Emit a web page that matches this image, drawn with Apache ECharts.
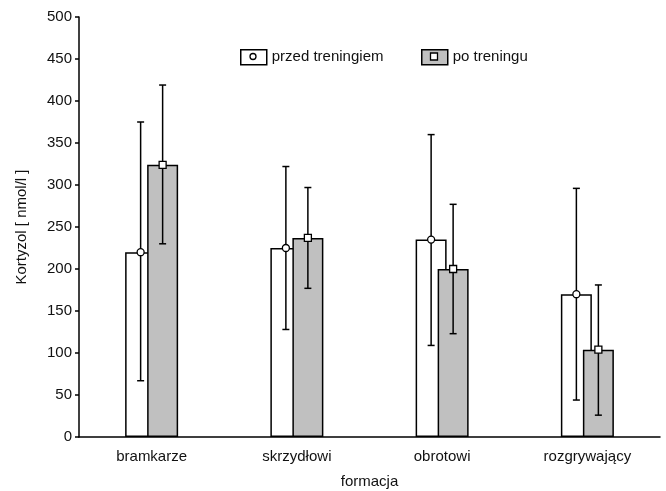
<!DOCTYPE html>
<html>
<head>
<meta charset="utf-8">
<script src="https://cdn.jsdelivr.net/npm/echarts@6/dist/echarts.min.js"></script>
<style>html,body{margin:0;padding:0;background:#fff}#c{width:666px;height:491px}</style>
</head>
<body>
<div id="c"></div>
<script>
const categories = ['bramkarze', 'skrzydłowi', 'obrotowi', 'rozgrywający'];
const seriesNames = ['przed treningiem', 'po treningu'];
const przedMean = [220, 225, 235, 170];
const przedLow = [67, 128, 109, 44];
const przedHigh = [375, 322, 360, 296];
const poMean = [324, 237, 200, 104];
const poLow = [230, 177, 123, 26];
const poHigh = [419, 297, 277, 181];
const yTicks = [0, 50, 100, 150, 200, 250, 300, 350, 400, 450, 500];

const FONT = '"Liberation Sans", Arial, sans-serif';
const BAR_W = 31;
const OFFSET = 11;

function errData(mean, low, high) {
  return mean.map((m, i) => [i, m, low[i], high[i]]);
}

function makeErr(offset, shape) {
  return function (params, api) {
    const cx = api.coord([api.value(0), 0])[0] + offset;
    const yM = api.coord([api.value(0), api.value(1)])[1];
    const yL = api.coord([api.value(0), api.value(2)])[1];
    const yH = api.coord([api.value(0), api.value(3)])[1];
    const ls = { stroke: '#000', lineWidth: 1.5 };
    const children = [
      { type: 'line', shape: { x1: cx, y1: yL, x2: cx, y2: yH }, style: ls },
      { type: 'line', shape: { x1: cx - 3.5, y1: yL, x2: cx + 3.5, y2: yL }, style: ls },
      { type: 'line', shape: { x1: cx - 3.5, y1: yH, x2: cx + 3.5, y2: yH }, style: ls }
    ];
    if (shape === 'circle') {
      children.push({ type: 'circle', shape: { cx: cx, cy: yM, r: 3.5 }, style: { fill: '#fff', stroke: '#000', lineWidth: 1.3 } });
    } else {
      children.push({ type: 'rect', shape: { x: cx - 3.5, y: yM - 3.5, width: 7, height: 7 }, style: { fill: '#fff', stroke: '#000', lineWidth: 1.3 } });
    }
    return { type: 'group', children: children };
  };
}

const chart = echarts.init(document.getElementById('c'), null, { renderer: 'canvas' });
const legendCommon = {
  top: 49, itemWidth: 26, itemHeight: 15, icon: 'rect', itemGap: 0, padding: 0,
  textStyle: { fontFamily: FONT, fontSize: 15, color: '#111', lineHeight: 15 },
  itemStyle: { borderColor: '#000', borderWidth: 1.5 },
  selectedMode: false
};
chart.setOption({
  animation: false,
  backgroundColor: '#fff',
  textStyle: { fontFamily: FONT },
  grid: { left: 79, right: 6, top: 17, bottom: 54, containLabel: false, outerBoundsMode: 'none' },
  legend: [
    Object.assign({}, legendCommon, { left: 240, data: [seriesNames[0]] }),
    Object.assign({}, legendCommon, { left: 421, data: [seriesNames[1]] })
  ],
  xAxis: {
    type: 'category',
    data: categories,
    name: 'formacja',
    nameLocation: 'middle',
    nameGap: 37,
    nameTextStyle: { fontFamily: FONT, fontSize: 15, color: '#111' },
    axisLine: { lineStyle: { color: '#000', width: 1.5 } },
    axisTick: { show: false },
    axisLabel: { fontFamily: FONT, fontSize: 15, color: '#111', margin: 12 }
  },
  yAxis: {
    type: 'value',
    min: yTicks[0],
    max: yTicks[yTicks.length - 1],
    interval: 50,
    name: 'Kortyzol [ nmol/l ]',
    nameLocation: 'middle',
    nameGap: 50,
    nameTextStyle: { fontFamily: FONT, fontSize: 15, color: '#111' },
    axisLine: { show: true, lineStyle: { color: '#000', width: 1.5 } },
    axisTick: { show: true, length: 4, lineStyle: { color: '#000', width: 1.5 } },
    axisLabel: { fontFamily: FONT, fontSize: 15, color: '#111', margin: 7 },
    splitLine: { show: false }
  },
  series: [
    {
      name: seriesNames[0], type: 'bar', data: przedMean,
      barWidth: BAR_W, barGap: '-29%',
      itemStyle: { color: '#fff', borderColor: '#000', borderWidth: 1.5 },
      z: 2
    },
    {
      name: seriesNames[1], type: 'bar', data: poMean,
      barWidth: BAR_W, barGap: '-29%',
      itemStyle: { color: '#c0c0c0', borderColor: '#000', borderWidth: 1.5 },
      z: 2
    },
    {
      type: 'custom', data: errData(przedMean, przedLow, przedHigh),
      renderItem: makeErr(-OFFSET, 'circle'), z: 5, silent: true
    },
    {
      type: 'custom', data: errData(poMean, poLow, poHigh),
      renderItem: makeErr(OFFSET, 'square'), z: 5, silent: true
    }
  ],
  graphic: [
    { type: 'circle', shape: { cx: 253, cy: 56.5, r: 3 }, style: { fill: '#fff', stroke: '#000', lineWidth: 1.3 }, z: 100 },
    { type: 'rect', shape: { x: 430.5, y: 53, width: 7, height: 7 }, style: { fill: '#fff', stroke: '#000', lineWidth: 1.3 }, z: 100 }
  ]
});
</script>
</body>
</html>
